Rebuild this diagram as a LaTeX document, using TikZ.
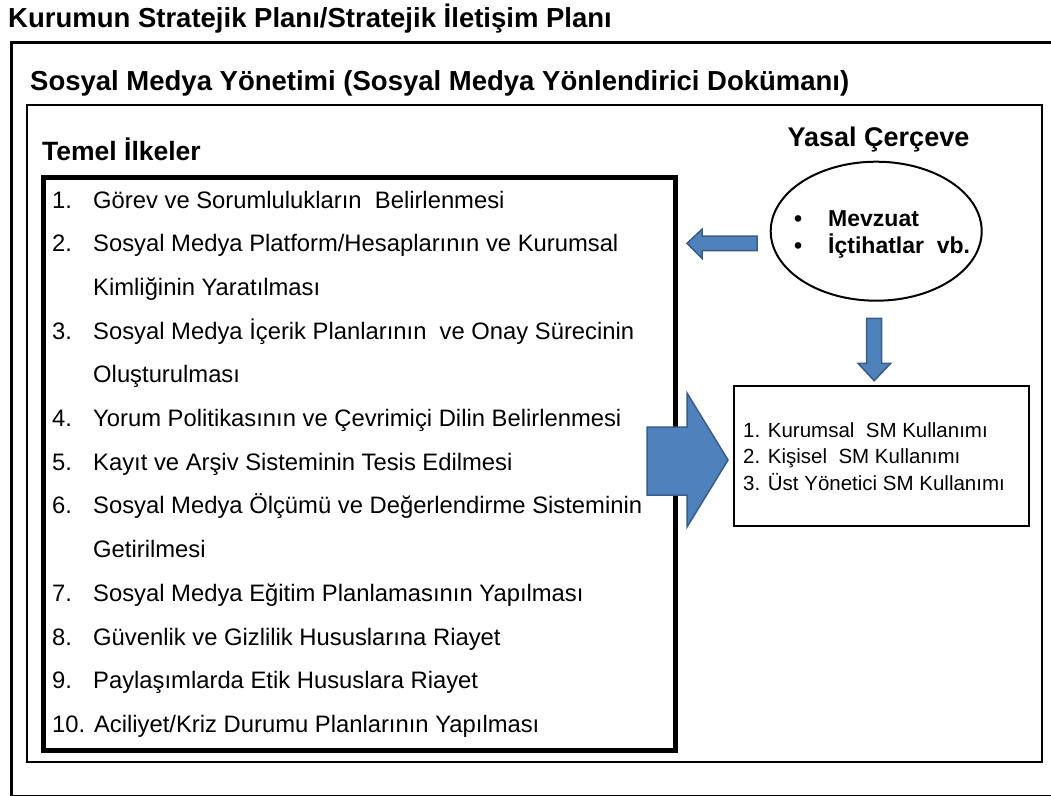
\documentclass[tikz,border=0pt]{standalone}
\usepackage{fontspec}
\setmainfont{Liberation Sans}
\usetikzlibrary{shapes.geometric}
\definecolor{arrowfill}{HTML}{4F81BD}
\definecolor{arrowline}{HTML}{385D8A}

\begin{document}
\begin{tikzpicture}[x=1pt,y=-1pt,
  frame/.style={draw=black, line width=3pt},
  heading/.style={anchor=base west, inner sep=0pt, font=\fontsize{27.5}{33}\selectfont\bfseries},
  item/.style={anchor=base west, inner sep=0pt, font=\fontsize{23.8}{28}\selectfont},
  lawtext/.style={anchor=base west, inner sep=0pt, font=\fontsize{23}{28}\selectfont\bfseries},
  usetext/.style={anchor=base west, inner sep=0pt, font=\fontsize{20.5}{26}\selectfont},
  blockarrow/.style={fill=arrowfill, draw=arrowline, line width=1.5pt, line join=miter},
]
\useasboundingbox (0,0) rectangle (1051,795);
\clip (0,0) rectangle (1051,795);
\fill[white] (0,0) rectangle (1051,795);

% outer frame: strategic plan (runs past the right and bottom page edges)
\draw[frame] (11,42.3) rectangle (1065,796.2);
\node[heading] (plan) at (8,27.7) {Kurumun Stratejik Planı/Stratejik İletişim Planı};

% inner frame: social media management
\draw[frame, line width=2.5pt] (27,105) rectangle (1042,762);
\node[heading] (smy) at (30,90) {Sosyal Medya Yönetimi (Sosyal Medya Yönlendirici Dokümanı)};

% basic principles
\node[heading, font=\fontsize{26.5}{32}\selectfont\bfseries] (ilke) at (42,160) {Temel İlkeler};
\node[draw, line width=5pt, minimum width=632.5pt, minimum height=573pt,
      anchor=north west, inner sep=0pt] (liste) at (40.5,175) {};

\node[item] (n1) at (52,208.0) {1.};
\node[item] (t1) at (93,208.0) {Görev ve Sorumlulukların\ \ Belirlenmesi};
\node[item] (n2) at (52,251.7) {2.};
\node[item] (t2) at (93,251.7) {Sosyal Medya Platform/Hesaplarının ve Kurumsal};
\node[item] (t2b) at (93,295.4) {Kimliğinin Yaratılması};
\node[item] (n3) at (52,339.1) {3.};
\node[item] (t3) at (93,339.1) {Sosyal Medya İçerik Planlarının\ \ ve Onay Sürecinin};
\node[item] (t3b) at (93,382.8) {Oluşturulması};
\node[item] (n4) at (52,426.5) {4.};
\node[item] (t4) at (93,426.5) {Yorum Politikasının ve Çevrimiçi Dilin Belirlenmesi};
\node[item] (n5) at (52,470.2) {5.};
\node[item] (t5) at (93,470.2) {Kayıt ve Arşiv Sisteminin Tesis Edilmesi};
\node[item] (n6) at (52,513.9) {6.};
\node[item] (t6) at (93,513.9) {Sosyal Medya Ölçümü ve Değerlendirme Sisteminin};
\node[item] (t6b) at (93,557.6) {Getirilmesi};
\node[item] (n7) at (52,601.3) {7.};
\node[item] (t7) at (93,601.3) {Sosyal Medya Eğitim Planlamasının Yapılması};
\node[item] (n8) at (52,645.0) {8.};
\node[item] (t8) at (93,645.0) {Güvenlik ve Gizlilik Hususlarına Riayet};
\node[item] (n9) at (52,688.7) {9.};
\node[item] (t9) at (93,688.7) {Paylaşımlarda Etik Hususlara Riayet};
\node[item] (t10) at (52,732.4) {10. Aciliyet/Kriz Durumu Planlarının Yapılması};

% legal framework
\node[heading, anchor=base, font=\fontsize{27}{32}\selectfont\bfseries] (yasal) at (878.5,146) {Yasal Çerçeve};
\node[ellipse, draw, line width=2pt, minimum width=211pt, minimum height=139pt, inner sep=0pt] (law) at (876.2,231.2) {};
\node[lawtext] (b1) at (794,226.7) {•};
\node[lawtext] (m1) at (828,226.7) {Mevzuat};
\node[lawtext] (b2) at (794,253) {•};
\node[lawtext] (m2) at (828,253) {İçtihatlar\ \ vb.};

% usage types
\node[draw, line width=2pt, minimum width=295pt, minimum height=140pt,
      anchor=north west, inner sep=0pt] (kullanim) at (733.3,385) {};
\node[usetext] (u1) at (743,437) {1. Kurumsal\ \ SM Kullanımı};
\node[usetext] (u2) at (743,463.5) {2. Kişisel\ \ SM Kullanımı};
\node[usetext] (u3) at (743,490) {3. Üst Yönetici SM Kullanımı};

% block arrows
\draw[blockarrow] (647,427) -- (687,427) -- (687,393) -- (728,460) -- (687,527) -- (687,495) -- (647,495) -- cycle;
\draw[blockarrow] (757,236) -- (702,236) -- (702,229.3) -- (687,243.3) -- (702,258.3) -- (702,250.7) -- (757,250.7) -- cycle;
\draw[blockarrow] (866.7,318.3) -- (881.7,318.3) -- (881.7,363.3) -- (890.7,363.3) -- (874.2,380.7) -- (858,363.3) -- (866.7,363.3) -- cycle;
\end{tikzpicture}
\end{document}
